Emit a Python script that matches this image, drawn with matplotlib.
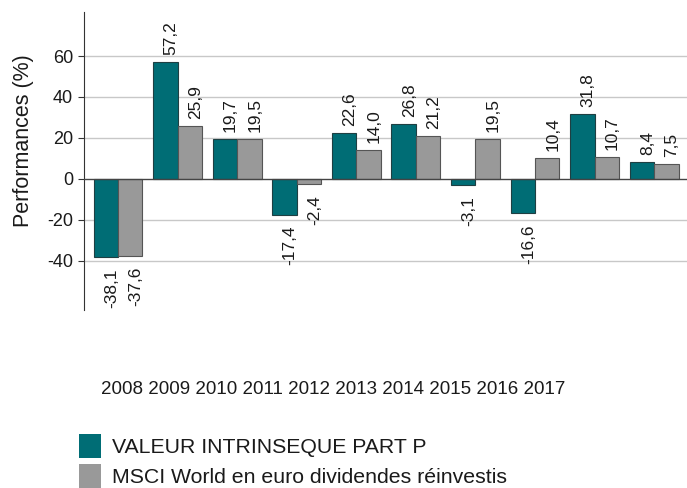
import numpy as np
import matplotlib
matplotlib.use("Agg")
import matplotlib.pyplot as plt
from matplotlib.patches import Patch

plt.rcParams["font.family"] = ["Liberation Sans", "DejaVu Sans"]

# ── Données ───────────────────────────────────────────────────────────────────
years = ["2008", "2009", "2010", "2011", "2012", "2013", "2014", "2015", "2016", "2017"]
fund = [-38.1, 57.2, 19.7, -17.4, 22.6, 26.8, -3.1, -16.6, 31.8, 8.4]
msci = [-37.6, 25.9, 19.5, -2.4, 14.0, 21.2, 19.5, 10.4, 10.7, 7.5]
series_names = ["VALEUR INTRINSEQUE PART P", "MSCI World en euro dividendes réinvestis"]
yticks = [60, 40, 20, 0, -20, -40]

TEAL = "#006d75"
GREY = "#999999"
TXT = "#1a1a1a"

W, H = 687, 488
fig = plt.figure(figsize=(W / 100, H / 100), dpi=100)
ax = fig.add_axes([84 / W, 1 - 310 / H, 603 / W, 298 / H])

x = np.arange(len(years))
w = 0.41
b1 = ax.bar(x - w / 2, fund, w, color=TEAL, edgecolor="#1f3f42", linewidth=0.8, zorder=3)
b2 = ax.bar(x + w / 2, msci, w, color=GREY, edgecolor="#555555", linewidth=0.8, zorder=3)

# étiquettes de valeurs (virgule décimale)
for bars, vals in ((b1, fund), (b2, msci)):
    for rect, v in zip(bars, vals):
        cx = rect.get_x() + rect.get_width() / 2
        lab = f"{v:.1f}".replace(".", ",")
        if v >= 0:
            ax.annotate(lab, (cx, v), xytext=(4, 5), textcoords="offset points",
                        rotation=90, ha="center", va="bottom", fontsize=12.5, color=TXT)
        else:
            ax.annotate(lab, (cx, v), xytext=(4, -8), textcoords="offset points",
                        rotation=90, ha="center", va="top", fontsize=12.5, color=TXT)

ax.set_xlim(-0.57, 9.55)
ax.set_ylim(-64, 81.5)
ax.set_yticks(yticks)
ax.set_yticklabels([str(t) for t in yticks], fontsize=13, color=TXT)
ax.set_xticks([])
for t in yticks:
    if t != 0:
        ax.axhline(t, color="#c8c8c8", linewidth=1, zorder=1)
ax.axhline(0, color="#444444", linewidth=1, zorder=4)
for s in ("top", "right", "bottom"):
    ax.spines[s].set_visible(False)
ax.spines["left"].set_color("#333333")
ax.tick_params(axis="y", length=4, width=0.8, color="#333333", pad=4)
ax.set_ylabel("Performances (%)", fontsize=15.5, color=TXT)
ax.yaxis.set_label_coords(-0.083, 0.567)

# années : une seule ligne compacte sous le graphique
fig.text(101 / W, 1 - 390 / H, " ".join(years), ha="left", va="center",
         fontsize=13.5, color=TXT)

# légende
handles = [Patch(facecolor=TEAL, edgecolor="none"), Patch(facecolor=GREY, edgecolor="none")]
fig.legend(handles, series_names, loc="upper left", bbox_to_anchor=(79 / W, 1 - 434 / H),
           frameon=False, fontsize=15.3, handlelength=1.04, handleheight=1.36,
           handletextpad=0.5, labelspacing=0.3, borderpad=0, borderaxespad=0,
           labelcolor=TXT)

plt.savefig("out.png", dpi=100)
